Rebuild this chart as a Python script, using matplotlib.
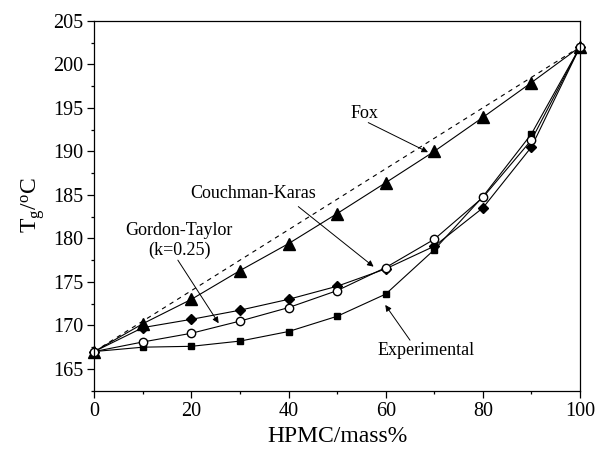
import matplotlib
matplotlib.use("Agg")
import matplotlib.pyplot as plt
from matplotlib.ticker import MultipleLocator

plt.rcParams['font.family'] = ['Liberation Serif', 'DejaVu Serif']
plt.rcParams['mathtext.fontset'] = 'custom'
plt.rcParams['mathtext.rm'] = 'Liberation Serif'
plt.rcParams['mathtext.it'] = 'Liberation Serif:italic'

hpmc = [0, 10, 20, 30, 40, 50, 60, 70, 80, 90, 100]
fox = [167, 170.2, 173.0, 176.3, 179.4, 182.85, 186.4, 190.0, 193.9, 197.9, 202]
couchman = [167, 169.75, 170.7, 171.75, 173.0, 174.5, 176.5, 179.1, 183.5, 190.5, 202]
gordon = [167, 168.1, 169.1, 170.5, 172.05, 174.0, 176.65, 179.9, 184.7, 191.3, 202]
experimental = [167, 167.5, 167.6, 168.2, 169.3, 171.05, 173.6, 178.7, 184.8, 192.0, 202]
linear_x = [0, 100]
linear_y = [167, 202]

fig = plt.figure(figsize=(6.03, 4.51), dpi=100)
ax = fig.add_axes([0.1564, 0.1337, 0.9619 - 0.1564, 0.954 - 0.1337])

ax.plot(linear_x, linear_y, color='black', lw=0.8, ls=(0, (4, 4)), clip_on=False)
ax.plot(hpmc, fox, color='black', lw=0.8, marker='^', ms=8, mfc='black', mec='black', clip_on=False)
ax.plot(hpmc, couchman, color='black', lw=0.8, marker='D', ms=5.5, mfc='black', mec='black', clip_on=False)
ax.plot(hpmc, experimental, color='black', lw=0.8, marker='s', ms=5, mfc='black', mec='black', clip_on=False)
ax.plot(hpmc, gordon, color='black', lw=0.8, marker='o', ms=6, mfc='white', mec='black', mew=1.0, clip_on=False)

ax.set_xlim(0, 100)
ax.set_ylim(162.5, 205)
ax.xaxis.set_major_locator(MultipleLocator(20))
ax.xaxis.set_minor_locator(MultipleLocator(10))
ax.yaxis.set_major_locator(MultipleLocator(5))
ax.yaxis.set_minor_locator(MultipleLocator(2.5))
ax.tick_params(which='major', direction='out', length=5, width=0.9, labelsize=14.5, pad=3)
ax.tick_params(which='minor', direction='out', length=2.5, width=0.9)
ax.tick_params(top=False, right=False, which='both')
for s in ax.spines.values():
    s.set_linewidth(0.9)

ax.set_xlabel('HPMC/mass%', fontsize=17, labelpad=4)
ax.set_ylabel(r'T$_{\rm g}$/$^{\rm o}$C', fontsize=17, labelpad=4)

arrow = dict(arrowstyle='-|>', color='black', lw=0.7, mutation_scale=9, shrinkA=0, shrinkB=0)
ax.text(55.6, 194.4, 'Fox', fontsize=13, ha='center', va='center')
ax.annotate('', xy=(68.7, 189.9), xytext=(56.4, 193.3), arrowprops=arrow)
ax.text(32.8, 185.2, 'Couchman-Karas', fontsize=13, ha='center', va='center')
ax.annotate('', xy=(57.5, 176.75), xytext=(42.0, 183.65), arrowprops=arrow)
ax.text(17.5, 179.75, 'Gordon-Taylor\n(k=0.25)', fontsize=13, ha='center', va='center', linespacing=1.15)
ax.annotate('', xy=(25.6, 170.25), xytext=(17.2, 177.5), arrowprops=arrow)
ax.text(68.4, 167.1, 'Experimental', fontsize=13, ha='center', va='center')
ax.annotate('', xy=(59.9, 172.35), xytext=(65.0, 168.3), arrowprops=arrow)

fig.savefig('out.png', dpi=100)
